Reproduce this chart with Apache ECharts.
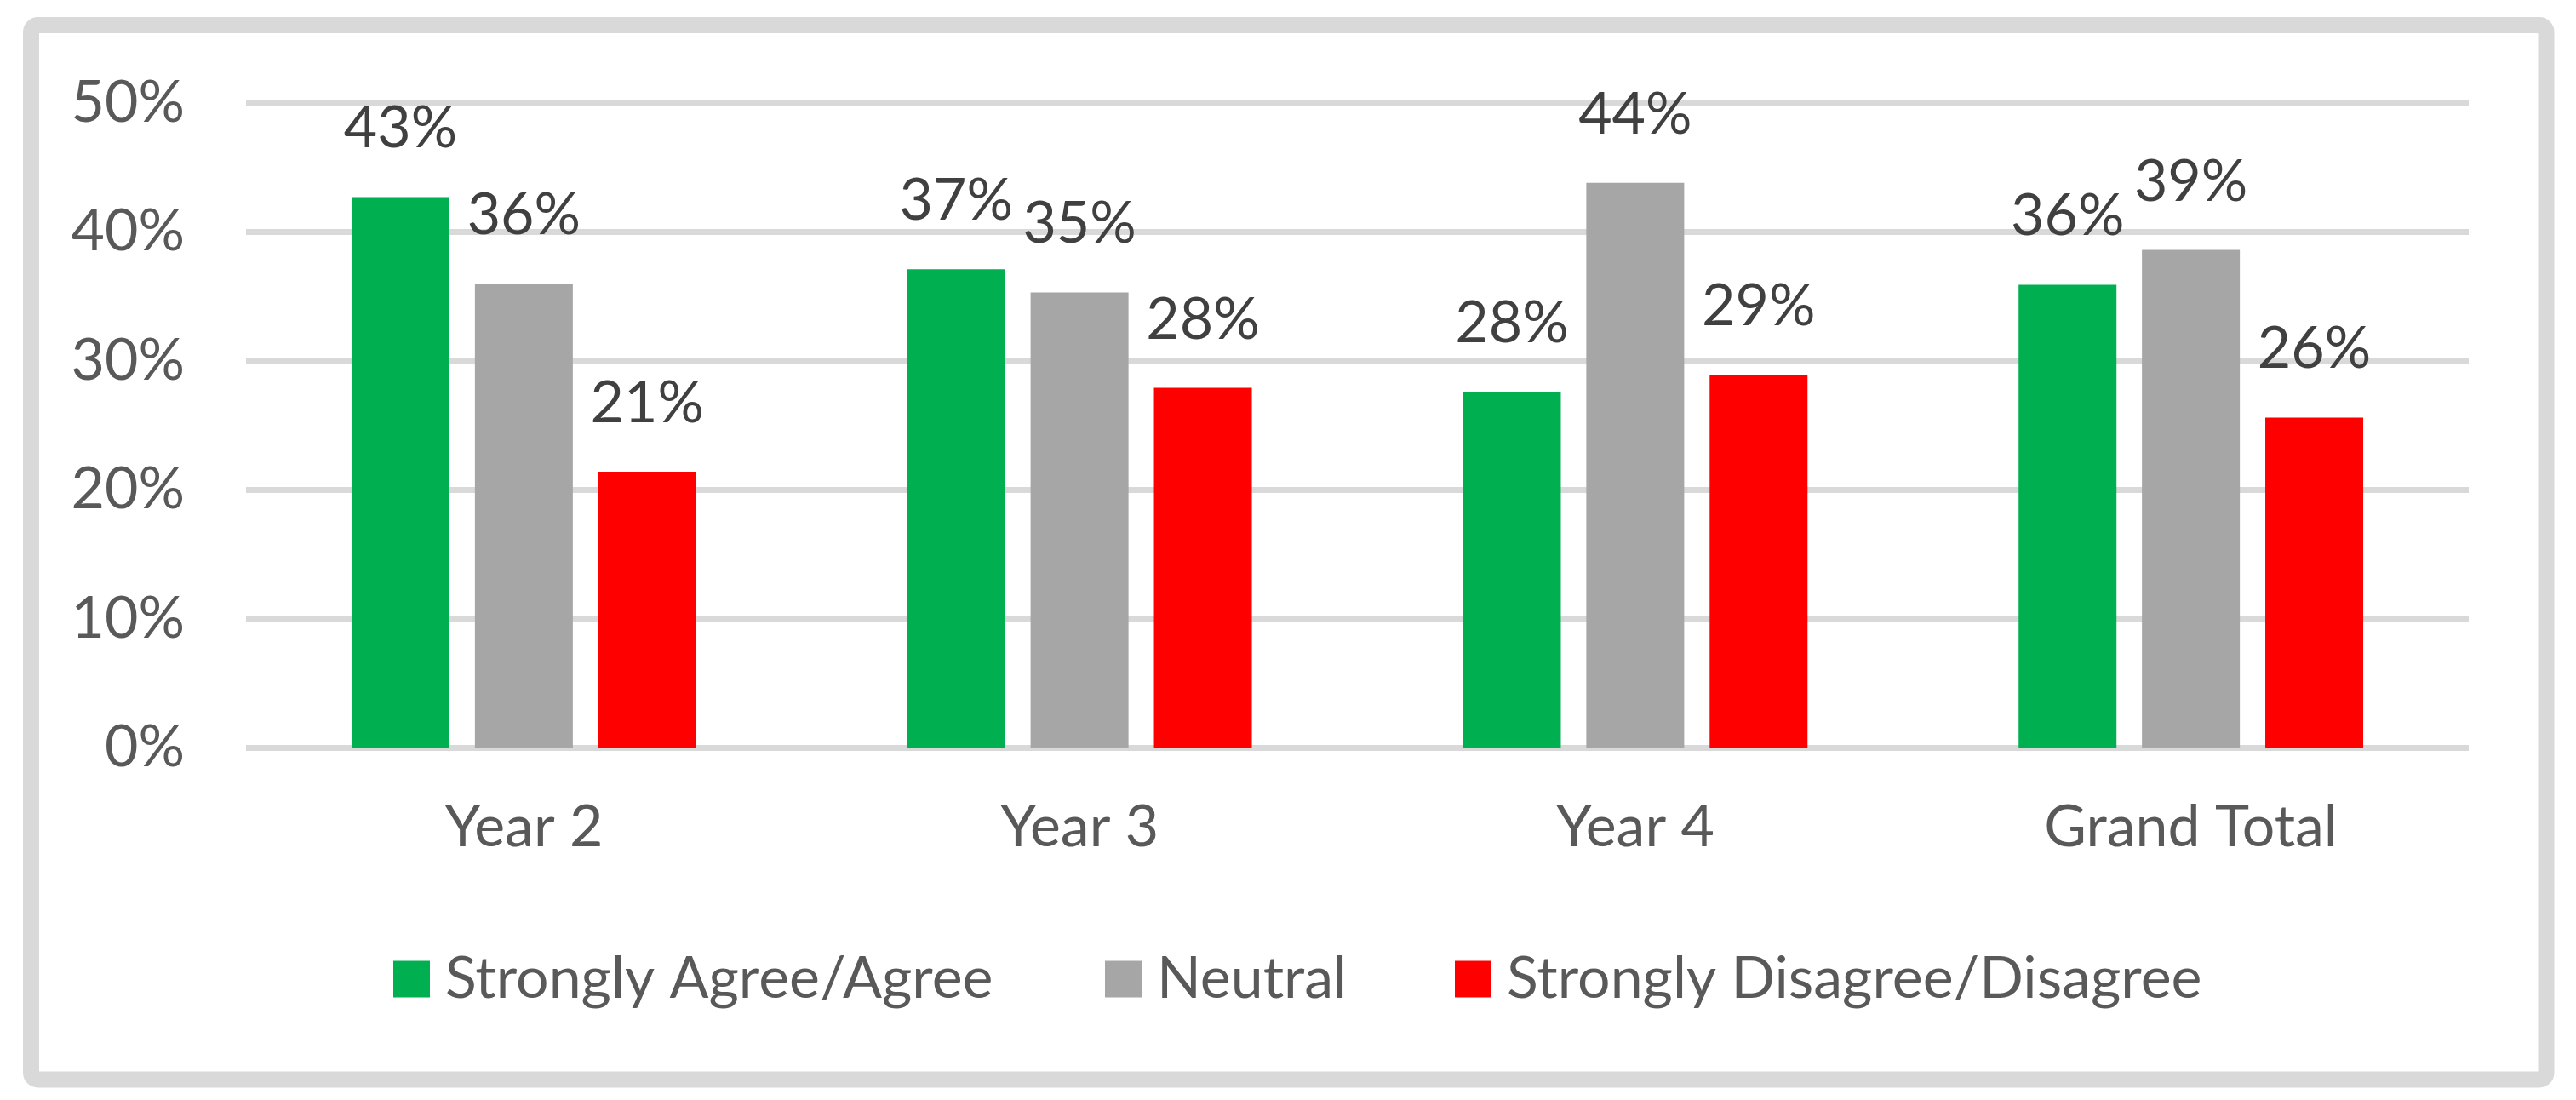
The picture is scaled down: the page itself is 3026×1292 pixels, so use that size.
<!DOCTYPE html>
<html>
<head>
<meta charset="utf-8">
<style>
html,body{margin:0;padding:0;background:#fff;}
#chart{width:3026px;height:1292px;}
</style>
<script src="https://cdn.jsdelivr.net/npm/echarts@6/dist/echarts.min.js"></script>
</head>
<body>
<div id="chart"></div>
<script>
const categories = ['Year 2', 'Year 3', 'Year 4', 'Grand Total'];
const seriesNames = ['Strongly Agree/Agree', 'Neutral', 'Strongly Disagree/Disagree'];
const agreeValues = [42.7, 37.1, 27.6, 35.9];
const neutralValues = [36.0, 35.3, 43.8, 38.6];
const disagreeValues = [21.4, 27.9, 28.9, 25.6];
const yTicks = [0, 10, 20, 30, 40, 50];

const colors = ['#00B050', '#A6A6A6', '#FF0000'];
const FONT = 'Lato';

const chart = echarts.init(document.getElementById('chart'));

function mkSeries(name, data, color) {
  return {
    name: name,
    type: 'bar',
    data: data,
    barWidth: 115,
    barGap: '26%',
    itemStyle: { color: color },
    label: {
      show: true,
      position: 'top',
      distance: 46,
      color: '#404040',
      fontFamily: FONT,
      fontSize: 68,
      formatter: p => Math.round(p.value) + '%'
    }
  };
}

function mkLegend(name, left) {
  return {
    data: [name],
    left: left,
    top: 1116,
    itemWidth: 43,
    itemHeight: 43,
    itemGap: 0,
    padding: 0,
    icon: 'rect',
    textStyle: { color: '#595959', fontFamily: FONT, fontSize: 68, padding: [0, 0, 0, 13] },
    selectedMode: false
  };
}

chart.setOption({
  animation: false,
  backgroundColor: '#ffffff',
  graphic: [{
    type: 'rect',
    shape: { x: 36.5, y: 29.5, width: 2954.5, height: 1238.5, r: 8 },
    style: { fill: 'none', stroke: '#D9D9D9', lineWidth: 19 },
    silent: true
  }],
  legend: [
    mkLegend(seriesNames[0], 462),
    mkLegend(seriesNames[1], 1298),
    mkLegend(seriesNames[2], 1709)
  ],
  grid: { left: 289, right: 126, top: 121, bottom: 414 },
  xAxis: {
    type: 'category',
    data: categories,
    axisLine: { show: false },
    axisTick: { show: false },
    axisLabel: { color: '#595959', fontFamily: FONT, fontSize: 68, margin: 60 }
  },
  yAxis: {
    type: 'value',
    min: yTicks[0],
    max: yTicks[yTicks.length - 1],
    interval: 10,
    axisLine: { show: false },
    axisTick: { show: false },
    splitLine: { lineStyle: { color: '#D9D9D9', width: 7 } },
    axisLabel: { color: '#595959', fontFamily: FONT, fontSize: 68, margin: 72, formatter: '{value}%' }
  },
  series: [
    mkSeries(seriesNames[0], agreeValues, colors[0]),
    mkSeries(seriesNames[1], neutralValues, colors[1]),
    mkSeries(seriesNames[2], disagreeValues, colors[2])
  ]
});
</script>
</body>
</html>
